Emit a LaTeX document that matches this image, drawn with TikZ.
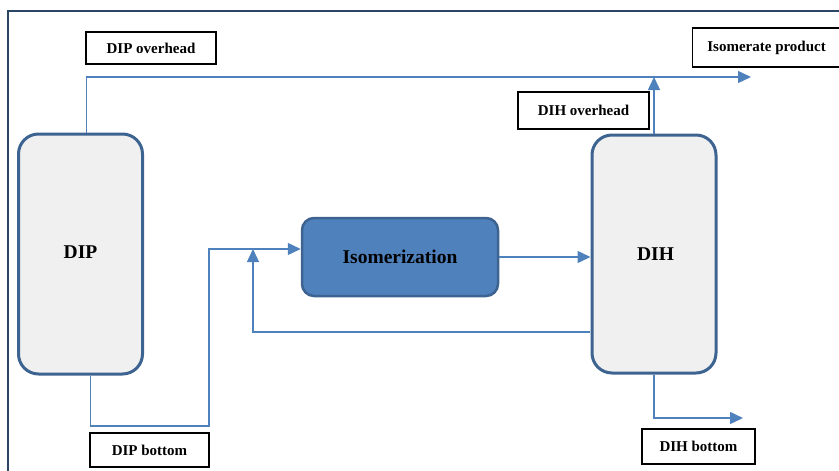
\documentclass[tikz,border=0pt]{standalone}
\usepackage{fontspec}
\setmainfont{Liberation Serif}
\usetikzlibrary{positioning, arrows.meta, calc}
\definecolor{flowblue}{HTML}{4F81BD}
\definecolor{edgeblue}{HTML}{3D6391}
\definecolor{colgray}{HTML}{F0F0F0}

\begin{document}
\begin{tikzpicture}[x=1pt, y=-1pt,
  column/.style={draw=edgeblue, line width=3pt, fill=colgray, rounded corners=20pt,
    minimum width=124pt, minimum height=240pt, font=\fontsize{19.5}{22}\selectfont\bfseries},
  reactor/.style={draw=edgeblue, line width=2.5pt, fill=flowblue, rounded corners=12pt,
    minimum width=196pt, minimum height=78pt, font=\fontsize{19.5}{22}\selectfont\bfseries},
  tag/.style={draw, line width=1.2pt, fill=white, inner sep=0pt,
    font=\fontsize{15}{17}\selectfont\bfseries},
  flow/.style={flowblue, line width=1.4pt},
  tip/.style={-{Triangle[length=13pt, width=12pt]}}]

  % --- Cornice ---
  \useasboundingbox (0,0) rectangle (839,471);
  \draw[edgeblue!70!black, line width=1.2pt] (8,480) -- (8,11) -- (850,11);

  % --- Colonne e reattore ---
  \node[column] (dip) at (80.5,254) {\raisebox{4pt}{DIP}};
  \node[column, minimum height=238pt] (dih) at (654,254) {\hspace*{3pt}\raisebox{-3pt}{DIH}};
  \node[reactor] (iso) at (400,257) {Isomerization};

  % --- Etichette ---
  \node[tag, minimum width=130pt, minimum height=32pt] (dipover) at (151,48) {DIP overhead};
  \node[tag, minimum width=119pt, minimum height=34pt] (dipbot) at (149.5,450) {DIP bottom};
  \node[tag, minimum width=131pt, minimum height=37pt] (dihover) at (583.5,110.5) {DIH overhead};
  \node[tag, minimum width=113pt, minimum height=35pt] (dihbot) at (698.5,446.5) {DIH bottom};
  \node[tag, minimum width=160pt, minimum height=39pt, anchor=west] (isoprod) at (692,47.5) {\hspace*{-12pt}\raisebox{1.5pt}{Isomerate product}};

  % --- Punti di snodo ---
  \coordinate (top) at (751,77);
  \coordinate (mix) at (253,249);
  \coordinate (bend) at (209,426);
  \coordinate (ret) at (590,332);
  \coordinate (out) at (743,418);

  % --- Correnti ---
  \draw[flow, tip] ([xshift=6pt]dip.north) |- (top);
  \draw[flow, tip] (dih.north) -- (dih.north |- top);
  \draw[flow, tip] ([xshift=10pt]dip.south) |- (bend) |- (iso.west |- mix);
  \draw[flow, tip] (iso.east) -- (dih.west |- iso.east);
  \draw[flow, tip] (ret) -| (mix);
  \draw[flow, tip] (dih.south) |- (out);

\end{tikzpicture}
\end{document}
